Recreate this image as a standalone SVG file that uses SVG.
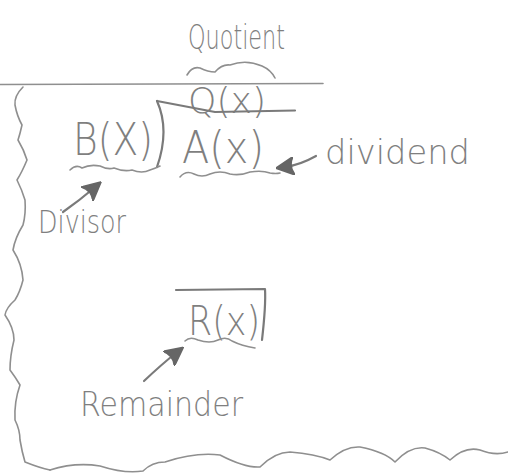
<svg xmlns="http://www.w3.org/2000/svg" width="508" height="474" viewBox="0 0 508 474">
  <style>
    .pencil { fill: none; stroke: #8f8f8f; stroke-width: 1.6; stroke-linecap: round; stroke-linejoin: round; }
    .dark { fill: none; stroke: #7a7a7a; stroke-width: 2.2; stroke-linecap: round; stroke-linejoin: round; }
    .hand { font-family: "DejaVu Sans ExtraLight", "DejaVu Sans", "Liberation Sans", sans-serif; font-weight: 200; fill: #7e7e7e; opacity: 0.99; }
    .head { fill: #666666; stroke: #666666; stroke-width: 1; }
  </style>
  <defs>
    <marker id="blob" viewBox="0 0 12 12" refX="6" refY="6" markerWidth="8.5" markerHeight="8.5" orient="auto-start-reverse">
      <path d="M0,0 L12,6 L0,12 Q4,6 0,0 Z" class="head"/>
    </marker>
  </defs>

  <rect width="508" height="474" fill="#ffffff"/>

  <!-- page frame: top rule, wavy left edge, wavy bottom edge -->
  <g id="frame">
    <path class="pencil" d="M0,84.5 L323,83.5"/>
    <path class="pencil" d="M23,87 Q14,96 15,105 Q17,116 22,125 Q20,134 18,140 Q24,150 27,160 Q22,172 17,180 Q22,190 25,200 Q26,214 23,225 Q15,238 13,250 Q22,264 23,280 Q20,292 15,300 Q6,308 5,315 Q14,328 14,340 Q10,356 10,370 Q16,378 20,385 Q14,402 15,420 Q20,430 20,440 Q22,452 25,462 Q40,468 50,470"/>
    <path class="pencil" d="M50,470 Q75,462 100,466 Q125,474 143,471 Q152,462 165,462 Q195,452 220,455 Q245,468 260,467 Q275,452 290,452 Q315,454 330,460 Q345,446 360,447 Q385,452 395,462 Q410,446 425,448 Q440,452 450,460 Q465,446 480,450 Q495,456 508,452"/>
  </g>

  <!-- quotient label and its brace -->
  <g id="quotient-label">
    <text class="hand" x="188" y="49" font-size="34" textLength="97" lengthAdjust="spacingAndGlyphs">Quotient</text>
    <path class="pencil" d="M187,75 Q192,66 200,68 Q208,72 215,72 Q222,64 230,65 Q246,59 262,66 Q271,70 275,78"/>
  </g>

  <!-- long division bracket with Q(x) on top -->
  <g id="quotient">
    <text class="hand" x="188" y="113" font-size="36" textLength="78" lengthAdjust="spacingAndGlyphs">Q(x)</text>
    <path class="dark" d="M157,101 L215,112 L295,110.5"/>
    <path class="dark" d="M157,101 Q170,130 157,167"/>
  </g>

  <!-- divisor B(x) -->
  <g id="divisor">
    <text class="hand" x="73" y="155" font-size="44" textLength="80" lengthAdjust="spacingAndGlyphs">B(X)</text>
    <path class="pencil" d="M70,170 Q76,164 82,168 Q90,164 100,166 Q108,170 114,168 Q124,172 132,170 Q142,174 150,170 Q156,168 160,166"/>
    <text class="hand" x="38" y="233" font-size="32" textLength="88" lengthAdjust="spacingAndGlyphs">Divisor</text>
  </g>

  <!-- dividend A(x) -->
  <g id="dividend">
    <text class="hand" x="182" y="163" font-size="44" textLength="82" lengthAdjust="spacingAndGlyphs">A(x)</text>
    <path class="pencil" d="M180,177 Q186,170 194,174 Q202,178 210,174 Q220,170 230,174 Q240,176 250,172 Q262,170 270,173 Q276,174 280,173"/>
    <text class="hand" x="325" y="164" font-size="34" textLength="145" lengthAdjust="spacingAndGlyphs">dividend</text>
  </g>

  <!-- remainder R(x) -->
  <g id="remainder">
    <path class="dark" d="M176,290 L265,289 Q266,305 262,340"/>
    <text class="hand" x="188" y="335" font-size="40" textLength="72" lengthAdjust="spacingAndGlyphs">R(x)</text>
    <path class="pencil" d="M185,341 Q190,336 198,340 Q210,344 218,340 Q226,336 232,341 Q242,346 255,348"/>
    <text class="hand" x="80" y="416" font-size="34" textLength="163" lengthAdjust="spacingAndGlyphs">Remainder</text>
  </g>

  <!-- pointer arrows from the labels -->
  <g id="connectors">
    <path class="dark" d="M63,212 Q80,200 94,188" marker-end="url(#blob)"/>
    <path class="dark" d="M316,156 Q300,165 285,167" marker-end="url(#blob)"/>
    <path class="dark" d="M144,381 Q162,364 176,353" marker-end="url(#blob)"/>
  </g>
</svg>
